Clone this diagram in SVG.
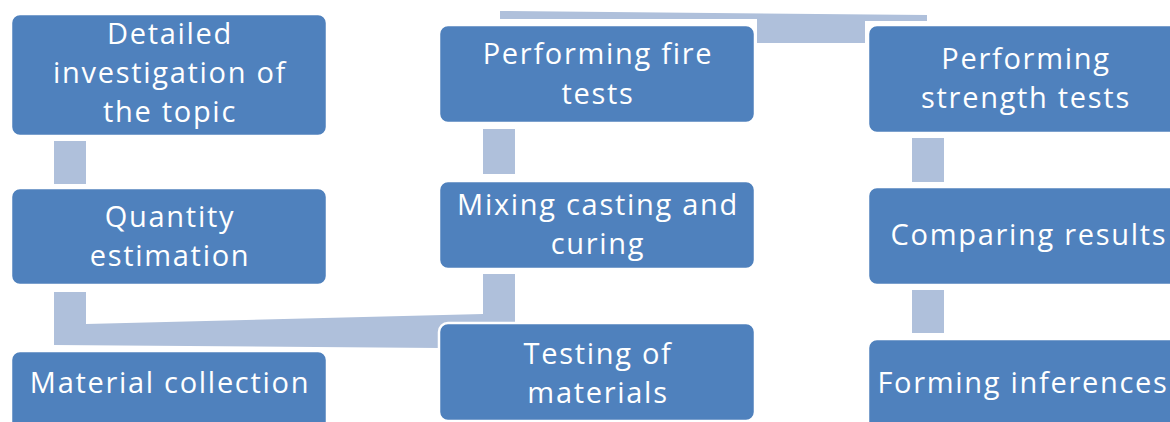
<svg xmlns="http://www.w3.org/2000/svg" width="1170" height="422" viewBox="0 0 1170 422">
  <style>
    .box { fill: #4F81BD; stroke: #FFFFFF; stroke-width: 2.5; }
    .link { fill: #AFC0DB; stroke: none; }
    .label { font-family: "Open Sans", "Liberation Sans", sans-serif; font-size: 29px; letter-spacing: 1.7px; fill: #FFFFFF; text-anchor: middle; }
  </style>

  <!-- connectors between process steps -->
  <g id="connectors">
    <rect class="link" x="54" y="141" width="32" height="43"/>
    <polygon class="link" points="54,292 86,292 86,324 483,314 483,274 515,274 515,322 440,348 54,345"/>
    <rect class="link" x="483" y="129" width="32" height="45"/>
    <polygon class="link" points="500,11 927,15 927,21 865,21 865,43 757,43 757,19 500,19"/>
    <rect class="link" x="912" y="138" width="32" height="44"/>
    <rect class="link" x="912" y="290" width="32" height="43"/>
  </g>

  <!-- left column -->
  <g id="node-investigation">
    <rect class="box" x="11" y="14" width="316" height="122" rx="9"/>
    <text class="label" x="170" y="44">Detailed</text>
    <text class="label" x="170" y="83">investigation of</text>
    <text class="label" x="170" y="122">the topic</text>
  </g>
  <g id="node-quantity">
    <rect class="box" x="11" y="188" width="316" height="97" rx="9"/>
    <text class="label" x="170" y="227">Quantity</text>
    <text class="label" x="170" y="266">estimation</text>
  </g>
  <g id="node-material">
    <rect class="box" x="11" y="351" width="316" height="90" rx="9"/>
    <text class="label" x="170" y="393">Material collection</text>
  </g>

  <!-- middle column -->
  <g id="node-fire">
    <rect class="box" x="439" y="25" width="316" height="98" rx="9"/>
    <text class="label" x="598" y="64">Performing fire</text>
    <text class="label" x="598" y="104">tests</text>
  </g>
  <g id="node-mixing">
    <rect class="box" x="439" y="181" width="316" height="88" rx="9"/>
    <text class="label" x="598" y="215">Mixing casting and</text>
    <text class="label" x="598" y="254">curing</text>
  </g>
  <g id="node-testing">
    <rect class="box" x="439" y="323" width="316" height="98" rx="9"/>
    <text class="label" x="598" y="364">Testing of</text>
    <text class="label" x="598" y="403">materials</text>
  </g>

  <!-- right column -->
  <g id="node-strength">
    <rect class="box" x="868" y="25" width="316" height="108" rx="9"/>
    <text class="label" x="1026" y="69">Performing</text>
    <text class="label" x="1026" y="108">strength tests</text>
  </g>
  <g id="node-comparing">
    <rect class="box" x="868" y="187" width="316" height="98" rx="9"/>
    <text class="label" x="1029" y="245">Comparing results</text>
  </g>
  <g id="node-inferences">
    <rect class="box" x="868" y="339" width="316" height="100" rx="9"/>
    <text class="label" x="1023" y="393">Forming inferences</text>
  </g>
</svg>
